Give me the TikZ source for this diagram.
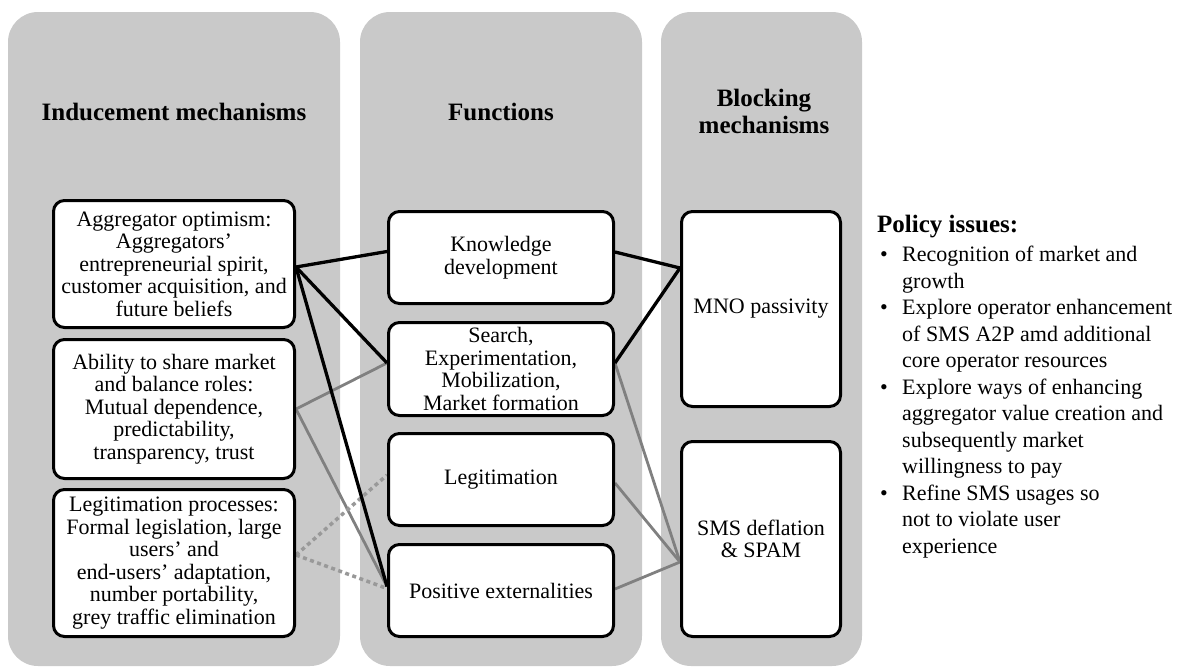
\documentclass[tikz,border=0pt]{standalone}
\usepackage{fontspec}
\setmainfont{Liberation Serif}
\usetikzlibrary{calc}
\definecolor{panel}{HTML}{C9C9C9}
\definecolor{conngray}{HTML}{808080}
\definecolor{dotgray}{HTML}{999999}
\pgfdeclarelayer{back}
\pgfdeclarelayer{mid}
\pgfsetlayers{back,mid,main}
\begin{document}
\begin{tikzpicture}[x=1pt,y=-1pt,
  panelbox/.style={fill=panel, rounded corners=30pt},
  box/.style={draw=black, fill=white, line width=3pt, rounded corners=11pt, inner sep=0pt, align=center, font=\fontsize{22}{22.5}\selectfont},
  head/.style={font=\bfseries\fontsize{25}{27}\selectfont, align=center, inner sep=0pt},
  blackline/.style={line width=3.3pt, black},
  grayline/.style={line width=2.8pt, conngray},
  dotline/.style={line width=3.5pt, dotgray, dash pattern=on 4pt off 3.5pt}]
\useasboundingbox (0,0) rectangle (1178,667);

\begin{pgfonlayer}{back}
  \fill[panelbox] (8,12) rectangle (340,666);
  \fill[panelbox] (360,12) rectangle (642,666);
  \fill[panelbox] (661,12) rectangle (862,666);
\end{pgfonlayer}

% headings
\node[head] (h1) at (174,112) {Inducement mechanisms};
\node[head] (h2) at (501,112) {Functions};
\node[head] (h3) at (764,111) {Blocking\\mechanisms};

% inducement mechanisms
\node[box, minimum width=241pt, minimum height=127pt] (A) at (174,264)
  {Aggregator optimism:\\Aggregators’\\entrepreneurial spirit,\\customer acquisition, and\\future beliefs};
\node[box, minimum width=241pt, minimum height=139pt] (B) at (174,409)
  {Ability to share market\\and balance roles:\\Mutual dependence,\\predictability,\\transparency, trust};
\node[box, minimum width=241pt, minimum height=147pt] (C) at (174,563)
  {Legitimation processes:\\Formal legislation, large\\users’ and\\end-users’ adaptation,\\number portability,\\grey traffic elimination};

% functions
\node[box, minimum width=225pt, minimum height=92pt] (KD) at (501,257.5) {Knowledge\\development};
\node[box, minimum width=225pt, minimum height=93pt] (S) at (501,369) {Search,\\Experimentation,\\Mobilization,\\Market formation};
\node[box, minimum width=225pt, minimum height=92pt] (L) at (501,479.5) {Legitimation};
\node[box, minimum width=225pt, minimum height=92pt] (P) at (501,590.5) {Positive externalities};

% blocking mechanisms
\node[box, minimum width=159pt, minimum height=195pt] (M) at (761,309) {MNO passivity};
\node[box, minimum width=159pt, minimum height=195pt] (D) at (761,539) {SMS deflation\\\& SPAM};

% policy issues
\node[anchor=base west, inner sep=0pt, font=\bfseries\fontsize{25}{27}\selectfont] (pol) at (877,232) {Policy issues:};
\node[anchor=base west, inner sep=0pt, font=\fontsize{22}{26.5}\selectfont] (list) at (880,261.5) {%
\begin{tabular}[t]{@{}p{22pt}@{}l@{}}
\textbullet & Recognition of market and\\
 & growth\\
\textbullet & Explore operator enhancement\\
 & of SMS A2P amd additional\\
 & core operator resources\\
\textbullet & Explore ways of enhancing\\
 & aggregator value creation and\\
 & subsequently market\\
 & willingness to pay\\
\textbullet & Refine SMS usages so\\
 & not to violate user\\
 & experience
\end{tabular}};

% connectors
\begin{pgfonlayer}{mid}
  \draw[grayline] (B.east) -- ($(S.west)+(0,-6)$);
  \draw[grayline] (B.east) -- ($(P.west)+(0,-4)$);
  \draw[dotline] ($(C.east)+(0,-8)$) -- ($(L.west)+(0,-4.5)$);
  \draw[dotline] ($(C.east)+(0,-8)$) -- ($(P.west)+(0,-2)$);
  \draw[blackline] ($(A.east)+(0,3)$) -- ($(KD.west)+(0,-6)$);
  \draw[blackline] ($(A.east)+(0,3)$) -- ($(S.west)+(0,-6)$);
  \draw[blackline] ($(A.east)+(0,3)$) -- ($(P.west)+(0,-4)$);
  \draw[grayline] ($(S.east)+(0,-6)$) -- ($(D.west)+(0,23)$);
  \draw[grayline] ($(L.east)+(0,3.5)$) -- ($(D.west)+(0,23)$);
  \draw[grayline] ($(P.east)+(0,-1.5)$) -- ($(D.west)+(0,23)$);
  \draw[blackline] ($(KD.east)+(0,-5.5)$) -- ($(M.west)+(0,-41)$);
  \draw[blackline] ($(S.east)+(0,-6)$) -- ($(M.west)+(0,-41)$);
\end{pgfonlayer}
\end{tikzpicture}
\end{document}
